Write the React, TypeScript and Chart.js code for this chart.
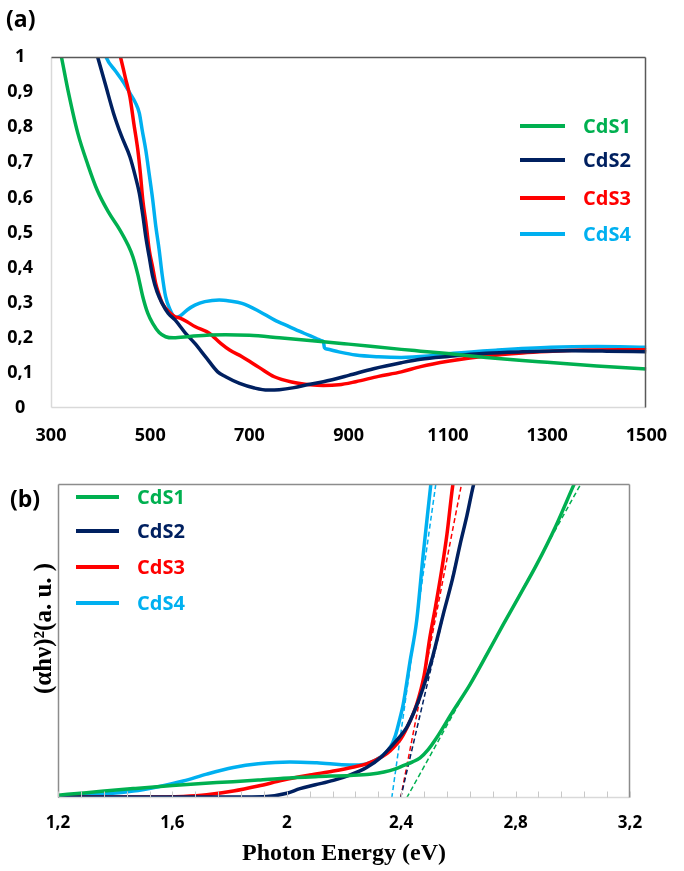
import React, { useEffect, useRef } from "react";
import { Chart, registerables } from "chart.js";

Chart.register(...registerables);

// ---------- shared ----------
const SERIES_NAMES = ["CdS1", "CdS2", "CdS3", "CdS4"];
const SERIES_COLORS = ["#00B050", "#002060", "#FF0000", "#00B0F0"];
const SANS = "'Open Sans', sans-serif";

// ---------- panel (a): wavelength (nm) vs absorbance ----------
const A_X_TICKS = [300, 500, 700, 900, 1100, 1300, 1500];
const A_Y_TICKS = [0, 0.1, 0.2, 0.3, 0.4, 0.5, 0.6, 0.7, 0.8, 0.9, 1];

const A_CDS1: number[][] = [
  [312, 1.06], [321, 1.0], [335, 0.9], [354, 0.783], [375, 0.69], [393, 0.621],
  [415, 0.56], [439, 0.507], [455, 0.465], [465, 0.431], [475, 0.38], [485, 0.317],
  [495, 0.27], [505, 0.241], [518, 0.215], [531, 0.203], [547, 0.2], [580, 0.204],
  [620, 0.208], [652, 0.209], [700, 0.207], [760, 0.2], [849, 0.189], [900, 0.182],
  [1006, 0.167], [1045, 0.162], [1100, 0.155], [1177, 0.144], [1250, 0.135],
  [1300, 0.13], [1400, 0.12], [1500, 0.111],
];
const A_CDS2: number[][] = [
  [388, 1.03], [394, 1.0], [410, 0.92], [426, 0.84], [442, 0.775], [459, 0.716],
  [470, 0.66], [478, 0.612], [485, 0.55], [491, 0.488], [498, 0.43], [505, 0.374],
  [514, 0.33], [524, 0.298], [536, 0.27], [550, 0.251], [570, 0.215], [590, 0.184],
  [612, 0.145], [636, 0.103], [652, 0.089], [680, 0.07], [710, 0.057], [737, 0.051],
  [760, 0.052], [790, 0.058], [816, 0.066], [849, 0.075], [900, 0.093], [950, 0.112],
  [1006, 0.129], [1045, 0.139], [1100, 0.147], [1177, 0.156], [1250, 0.16],
  [1350, 0.163], [1420, 0.162], [1500, 0.16],
];
const A_CDS3: number[][] = [
  [434, 1.03], [440, 1.0], [450, 0.94], [459, 0.887], [467, 0.81], [475, 0.735],
  [480, 0.67], [485, 0.593], [492, 0.52], [498, 0.45], [505, 0.4], [511, 0.355],
  [518, 0.322], [524, 0.299], [537, 0.275], [550, 0.26], [560, 0.256], [575, 0.245],
  [590, 0.232], [619, 0.213], [642, 0.184], [660, 0.165], [685, 0.146], [720, 0.115],
  [750, 0.089], [785, 0.074], [823, 0.066], [849, 0.064], [880, 0.066], [914, 0.075],
  [960, 0.09], [1006, 0.103], [1045, 0.118], [1100, 0.133], [1177, 0.148],
  [1250, 0.157], [1300, 0.161], [1373, 0.165], [1450, 0.166], [1500, 0.166],
];
const A_CDS4: number[][] = [
  [405, 1.03], [411, 1.0], [430, 0.96], [445, 0.93], [459, 0.897], [470, 0.87],
  [478, 0.84], [484, 0.79], [491, 0.735], [498, 0.665], [505, 0.593], [511, 0.52],
  [518, 0.45], [524, 0.38], [531, 0.317], [540, 0.28], [550, 0.258], [560, 0.262],
  [575, 0.28], [590, 0.293], [610, 0.303], [639, 0.308], [660, 0.305], [685, 0.298],
  [720, 0.275], [750, 0.251], [780, 0.232], [810, 0.213], [835, 0.198], [845, 0.1915],
  [849, 0.189], [851, 0.172], [856, 0.168], [880, 0.16], [914, 0.151], [960, 0.146],
  [1006, 0.144], [1060, 0.148], [1111, 0.156], [1200, 0.165], [1307, 0.173],
  [1400, 0.175], [1500, 0.173],
];

// ---------- panel (b): photon energy (eV) vs (αhν)² ----------
const B_X_TICKS = [1.2, 1.6, 2.0, 2.4, 2.8, 3.2];
const B_MINOR_TICKS = [
  1.2, 1.28, 1.36, 1.44, 1.52, 1.6, 1.68, 1.76, 1.84, 1.92, 2.0, 2.08, 2.16, 2.24,
  2.32, 2.4, 2.48, 2.56, 2.64, 2.72, 2.8, 2.88, 2.96, 3.04, 3.12, 3.2,
];

const B_CDS1: number[][] = [
  [1.2, 0.9], [1.3, 1.7], [1.463, 3.0], [1.6, 4.0], [1.755, 4.9], [1.9, 5.7],
  [1.988, 6.3], [2.1, 6.8], [2.221, 7.2], [2.29, 7.6], [2.34, 8.3], [2.38, 9.3],
  [2.407, 10.3], [2.44, 11.5], [2.466, 12.8], [2.495, 15.5], [2.524, 19.2],
  [2.58, 27.5], [2.641, 36.2], [2.7, 45.8], [2.757, 55.3], [2.82, 65.5],
  [2.874, 74.4], [2.94, 86.5], [3.002, 99.4], [3.01, 101],
];
const B_CDS2: number[][] = [
  [1.2, 0.3], [1.5, 0.3], [1.755, 0.3], [1.93, 0.5], [2.0, 1.5], [2.046, 3.0],
  [2.1, 4.2], [2.163, 5.6], [2.22, 7.3], [2.279, 9.7], [2.33, 13], [2.361, 16],
  [2.39, 19], [2.419, 22.4], [2.45, 28.5], [2.477, 35.1], [2.51, 45], [2.547, 58.5],
  [2.58, 70], [2.606, 80.8], [2.63, 90], [2.652, 99.4], [2.66, 102],
];
const B_CDS3: number[][] = [
  [1.2, 0.3], [1.5, 0.3], [1.638, 0.5], [1.72, 1], [1.813, 2.2], [1.9, 3.8],
  [1.988, 5.7], [2.08, 7.3], [2.163, 8.6], [2.23, 9.8], [2.279, 10.9], [2.337, 13.4],
  [2.361, 15], [2.4, 19], [2.431, 24.5], [2.454, 29.8], [2.48, 39], [2.5, 51],
  [2.52, 61], [2.541, 72.3], [2.56, 84], [2.58, 99.4], [2.585, 102],
];
const B_CDS4: number[][] = [
  [1.2, 0.4], [1.3, 0.8], [1.463, 2.2], [1.55, 3.6], [1.638, 5.4], [1.72, 7.6],
  [1.813, 9.7], [1.9, 10.9], [2.011, 11.5], [2.105, 11.2], [2.221, 10.5],
  [2.26, 10.6], [2.291, 11.3], [2.33, 13.2], [2.361, 16], [2.38, 20], [2.396, 25.5],
  [2.407, 29.8], [2.43, 43], [2.454, 56.4], [2.477, 77.6], [2.503, 99.4], [2.506, 102],
];
// linear fits (Tauc extrapolation), dashed
const B_FIT1: number[][] = [[2.419, 0], [3.028, 100]];
const B_FIT2: number[][] = [[2.398, 0], [2.655, 100]];
const B_FIT3: number[][] = [[2.398, 0], [2.611, 100]];
const B_FIT4: number[][] = [[2.367, 0], [2.521, 100]];

// ---------- helpers ----------
const commaFmt = (v: number) => String(Math.round(v * 10) / 10).replace(".", ",");
const toXY = (pts: number[][]) => pts.map(([x, y]) => ({ x, y }));

const solid = (label: string, pts: number[][], color: string) => ({
  label,
  data: toXY(pts),
  borderColor: color,
  backgroundColor: color,
  borderWidth: 3.5,
  pointRadius: 0,
  fill: false,
  cubicInterpolationMode: "monotone" as const,
});
const dashed = (label: string, pts: number[][], color: string) => ({
  label,
  data: toXY(pts),
  borderColor: color,
  borderWidth: 1.5,
  borderDash: [5, 3],
  pointRadius: 0,
  fill: false,
  tension: 0,
});

type OverlayCfg = {
  borders: { top: string; right: string; bottom: string; left: string };
  legend: { x1: number; x2: number; textX: number; rows: number[]; font: string };
  panel: { text: string; x: number; y: number; font: string };
  minorTicks?: number[];
};

const makeOverlay = (cfg: OverlayCfg) => ({
  id: "overlay",
  afterDraw(chart: any) {
    const { ctx, chartArea: ca } = chart;
    ctx.save();
    const seg = (x1: number, y1: number, x2: number, y2: number, c: string, w: number) => {
      ctx.beginPath();
      ctx.strokeStyle = c;
      ctx.lineWidth = w;
      ctx.setLineDash([]);
      ctx.moveTo(x1, y1);
      ctx.lineTo(x2, y2);
      ctx.stroke();
    };
    const L = Math.round(ca.left) + 0.5;
    const R = Math.round(ca.right) - 0.5;
    const T = Math.round(ca.top) + 0.5;
    const B = Math.round(ca.bottom) - 0.5;
    seg(L, B, R, B, cfg.borders.bottom, 1.5);
    seg(L, T, L, B, cfg.borders.left, 1.5);
    seg(L, T, R, T, cfg.borders.top, 1.5);
    seg(R, T, R, B, cfg.borders.right, 1.5);

    if (cfg.minorTicks) {
      const xs = chart.scales.x;
      cfg.minorTicks.forEach((v) => {
        const px = Math.round(xs.getPixelForValue(v)) + 0.5;
        seg(px, B, px, B - 6, "#c8c8c8", 1);
      });
    }

    // legend
    ctx.font = cfg.legend.font;
    ctx.textBaseline = "middle";
    ctx.textAlign = "left";
    SERIES_NAMES.forEach((name, i) => {
      const y = cfg.legend.rows[i];
      const col = chart.data.datasets[i].borderColor;
      ctx.lineCap = "butt";
      seg(cfg.legend.x1, y, cfg.legend.x2, y, col, 4);
      ctx.fillStyle = col;
      ctx.fillText(chart.data.datasets[i].label, cfg.legend.textX, y + 1);
    });

    // panel label
    ctx.font = cfg.panel.font;
    ctx.fillStyle = "#000";
    ctx.textBaseline = "middle";
    ctx.fillText(cfg.panel.text, cfg.panel.x, cfg.panel.y);
    ctx.restore();
  },
});

function PanelA() {
  const ref = useRef<HTMLCanvasElement>(null);
  useEffect(() => {
    if (!ref.current) return;
    const chart = new Chart(ref.current, {
      type: "line",
      data: {
        datasets: [
          solid(SERIES_NAMES[0], A_CDS1, SERIES_COLORS[0]),
          solid(SERIES_NAMES[1], A_CDS2, SERIES_COLORS[1]),
          solid(SERIES_NAMES[2], A_CDS3, SERIES_COLORS[2]),
          solid(SERIES_NAMES[3], A_CDS4, SERIES_COLORS[3]),
        ],
      },
      options: {
        animation: false,
        responsive: false,
        events: [],
        layout: { padding: { top: 57, right: 23, left: 0, bottom: 0 } },
        plugins: { legend: { display: false }, tooltip: { enabled: false } },
        scales: {
          x: {
            type: "linear",
            min: 300,
            max: 1500,
            afterBuildTicks: (s: any) => {
              s.ticks = A_X_TICKS.map((v) => ({ value: v }));
            },
            afterFit: (s: any) => {
              s.height = 47;
            },
            grid: { display: false, drawTicks: false },
            border: { display: false },
            ticks: {
              padding: 17,
              autoSkip: false,
              maxRotation: 0,
              color: "#000",
              font: { family: SANS, size: 18, weight: "bold" },
              callback: (v: any) => String(v),
            },
          },
          y: {
            type: "linear",
            min: 0,
            max: 1,
            afterBuildTicks: (s: any) => {
              s.ticks = A_Y_TICKS.map((v) => ({ value: v }));
            },
            afterFit: (s: any) => {
              s.width = 51;
            },
            grid: { display: false, drawTicks: false },
            border: { display: false },
            ticks: {
              padding: 18,
              crossAlign: "center",
              color: "#000",
              font: { family: SANS, size: 18, weight: "bold" },
              callback: (v: any) => commaFmt(Number(v)),
            },
          },
        },
      },
      plugins: [
        makeOverlay({
          borders: { top: "#595959", right: "#595959", bottom: "#d9d9d9", left: "#d9d9d9" },
          legend: {
            x1: 520,
            x2: 565,
            textX: 583,
            rows: [126, 160, 198, 234],
            font: `bold 20px ${SANS}`,
          },
          panel: { text: "(a)", x: 6, y: 20, font: `bold 23px ${SANS}` },
        }),
      ],
    } as any);
    return () => chart.destroy();
  }, []);
  return (
    <canvas
      ref={ref}
      width={684}
      height={455}
      style={{ position: "absolute", left: 0, top: 0, display: "block" }}
    />
  );
}

function PanelB() {
  const ref = useRef<HTMLCanvasElement>(null);
  useEffect(() => {
    if (!ref.current) return;
    const chart = new Chart(ref.current, {
      type: "line",
      data: {
        datasets: [
          solid(SERIES_NAMES[0], B_CDS1, SERIES_COLORS[0]),
          solid(SERIES_NAMES[1], B_CDS2, SERIES_COLORS[1]),
          solid(SERIES_NAMES[2], B_CDS3, SERIES_COLORS[2]),
          solid(SERIES_NAMES[3], B_CDS4, SERIES_COLORS[3]),
          dashed(SERIES_NAMES[0] + " fit", B_FIT1, SERIES_COLORS[0]),
          dashed(SERIES_NAMES[1] + " fit", B_FIT2, SERIES_COLORS[1]),
          dashed(SERIES_NAMES[2] + " fit", B_FIT3, SERIES_COLORS[2]),
          dashed(SERIES_NAMES[3] + " fit", B_FIT4, SERIES_COLORS[3]),
        ],
      },
      options: {
        animation: false,
        responsive: false,
        events: [],
        layout: { padding: { top: 29, right: 54, left: 0, bottom: 0 } },
        plugins: { legend: { display: false }, tooltip: { enabled: false } },
        scales: {
          x: {
            type: "linear",
            min: 1.2,
            max: 3.2,
            afterBuildTicks: (s: any) => {
              s.ticks = B_X_TICKS.map((v) => ({ value: v }));
            },
            afterFit: (s: any) => {
              s.height = 73;
            },
            grid: { display: false, drawTicks: false },
            border: { display: false },
            ticks: {
              padding: 15,
              autoSkip: false,
              maxRotation: 0,
              color: "#000",
              font: { family: SANS, size: 17, weight: "bold" },
              callback: (v: any) => commaFmt(Number(v)),
            },
            title: {
              display: true,
              text: "Photon Energy (eV)",
              color: "#000",
              font: { family: "Liberation Serif", size: 24, weight: "bold" },
              padding: { top: 0, bottom: 3 },
            },
          },
          y: {
            type: "linear",
            min: 0,
            max: 100,
            afterFit: (s: any) => {
              s.width = 58;
            },
            grid: { display: false, drawTicks: false },
            border: { display: false },
            ticks: { display: false },
            title: {
              display: true,
              text: "    (αhν)²(a. u. )",
              color: "#000",
              font: { family: "Liberation Serif", size: 25, weight: "bold" },
              padding: { top: 30, bottom: 0 },
            },
          },
        },
      },
      plugins: [
        makeOverlay({
          borders: { top: "#8c8c8c", right: "#8c8c8c", bottom: "#d9d9d9", left: "#8c8c8c" },
          legend: {
            x1: 76,
            x2: 119,
            textX: 137,
            rows: [42, 76, 112, 148],
            font: `bold 20px ${SANS}`,
          },
          panel: { text: "(b)", x: 10, y: 45, font: `bold 23px ${SANS}` },
          minorTicks: B_MINOR_TICKS,
        }),
      ],
    } as any);
    return () => chart.destroy();
  }, []);
  return (
    <canvas
      ref={ref}
      width={684}
      height={416}
      style={{ position: "absolute", left: 0, top: 455, display: "block" }}
    />
  );
}

export default function App() {
  return (
    <div
      style={{
        position: "absolute",
        left: 0,
        top: 0,
        width: 684,
        height: 871,
        background: "#fff",
      }}
    >
      <PanelA />
      <PanelB />
    </div>
  );
}
